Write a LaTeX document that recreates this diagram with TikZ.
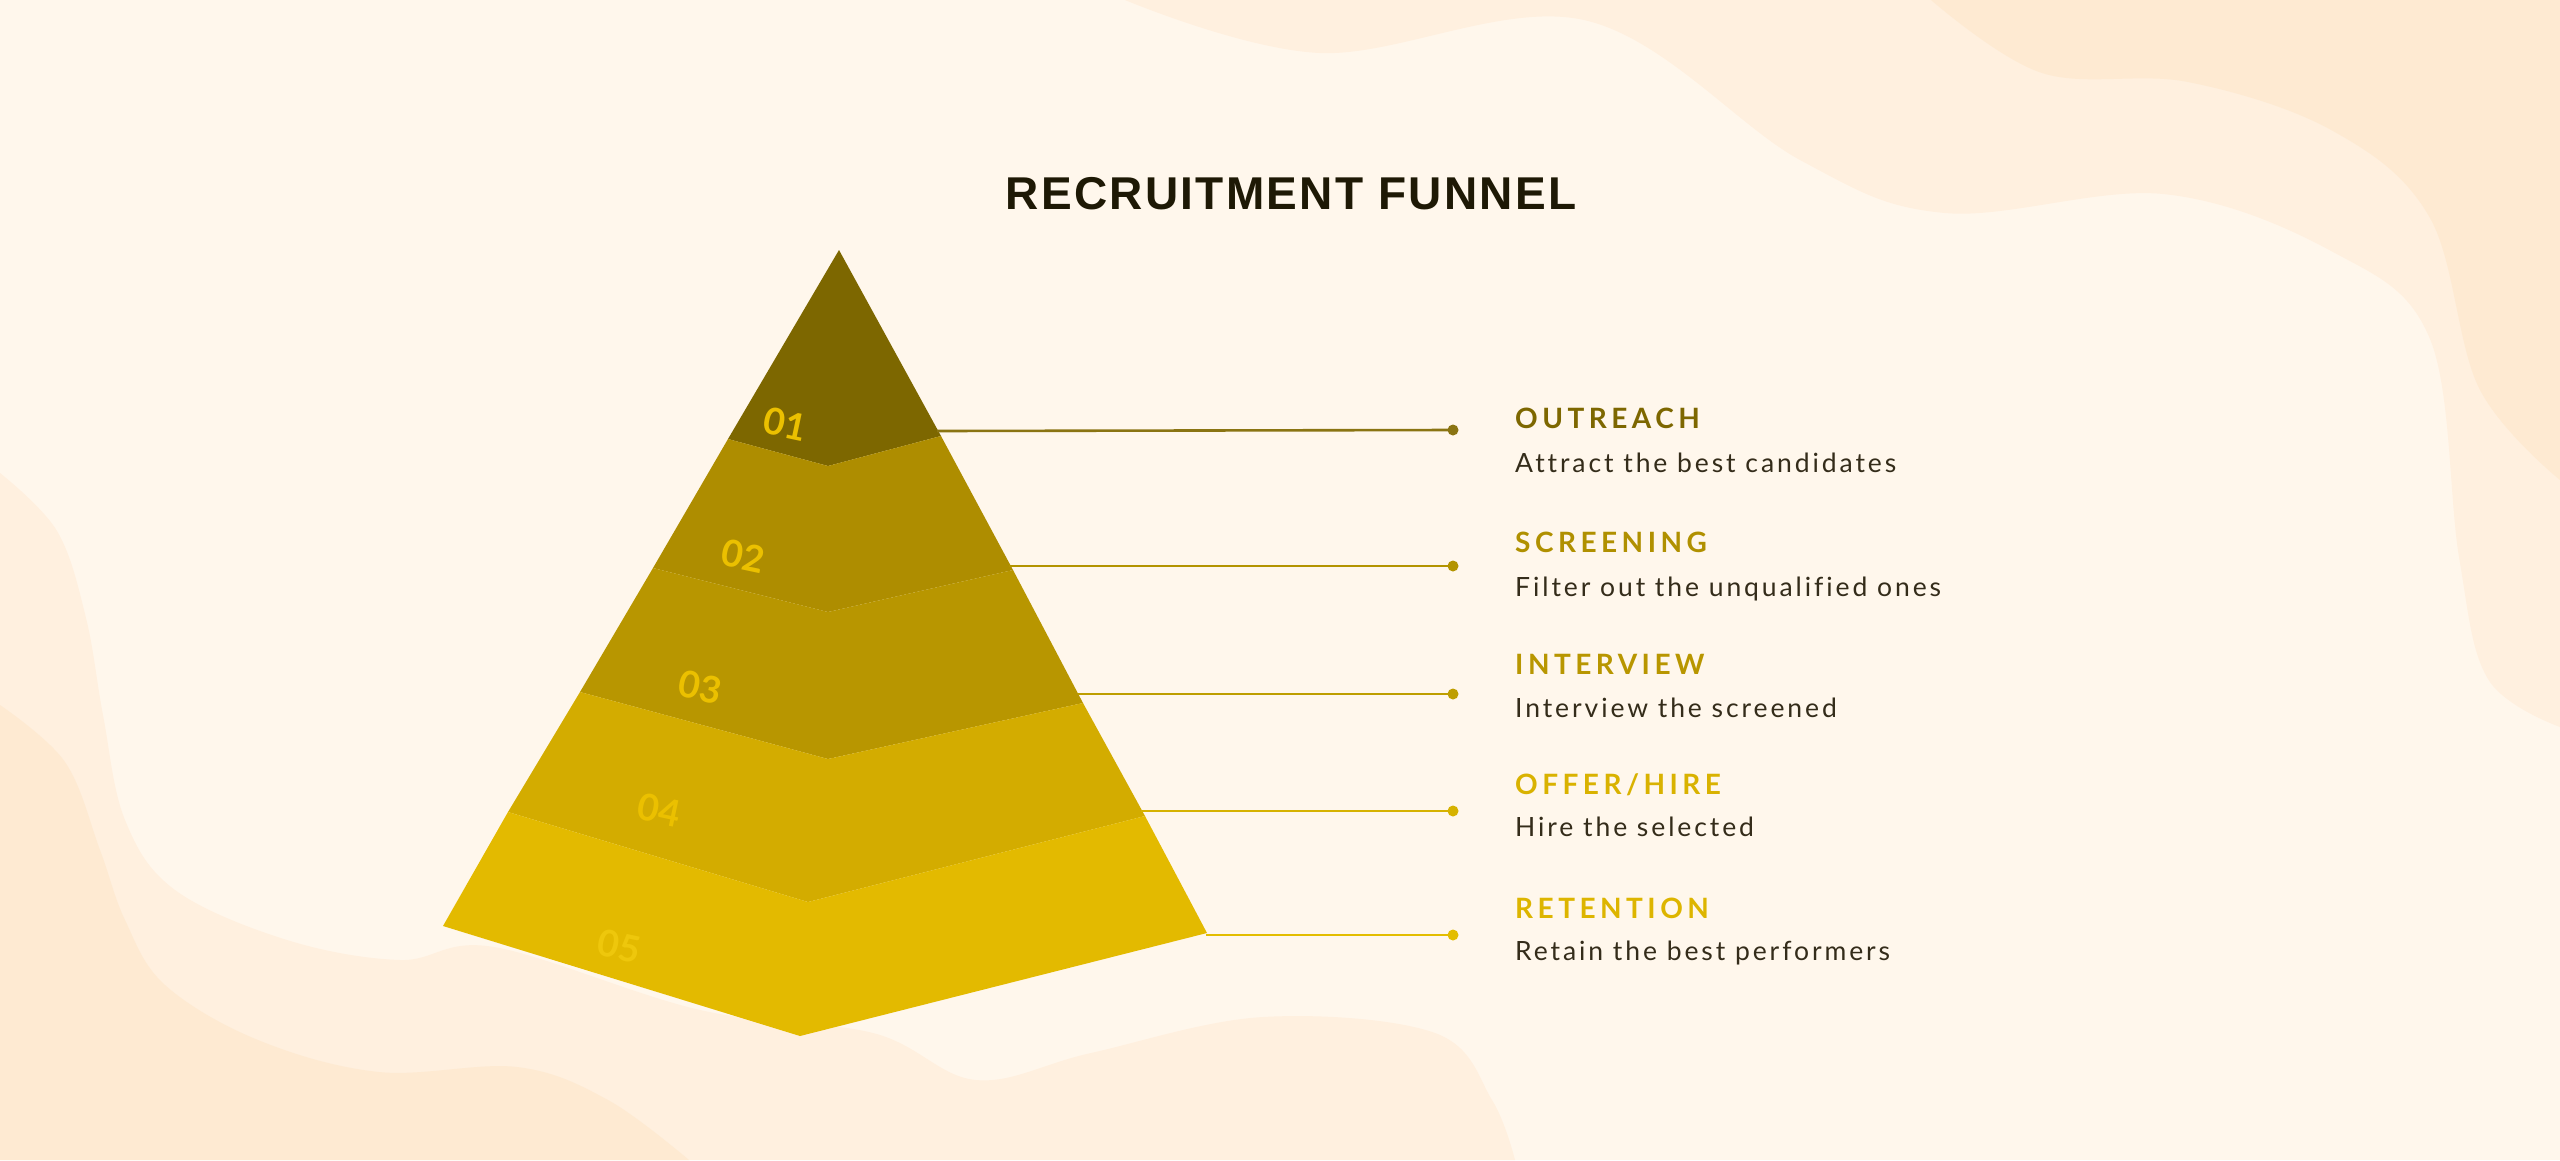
\documentclass[tikz,border=0pt]{standalone}
\usepackage{fontspec}
\setmainfont{Lato}
\newfontfamily\titlefont{Liberation Sans}[LetterSpace=5]
\newfontfamily\hdfont{Lato}[LetterSpace=16]
\newfontfamily\dsfont{Lato}[LetterSpace=11, Ligatures=NoCommon]
\newfontfamily\numfont{Lato}
\definecolor{bg}{HTML}{FFF7EC}
\definecolor{bgmid}{HTML}{FFF0DF}
\definecolor{bgout}{HTML}{FEEAD2}
\definecolor{bA}{HTML}{7D6700}
\definecolor{bB}{HTML}{AE8D00}
\definecolor{bC}{HTML}{B89600}
\definecolor{bD}{HTML}{D3AC00}
\definecolor{bE}{HTML}{E3BA00}
\definecolor{numc}{HTML}{EBC000}
\definecolor{numlast}{HTML}{EEC70C}
\definecolor{lA}{HTML}{8A7412}
\definecolor{lB}{HTML}{B39400}
\definecolor{lC}{HTML}{BE9E00}
\definecolor{lD}{HTML}{D6B200}
\definecolor{lE}{HTML}{E3BD00}
\definecolor{hA}{HTML}{7D6700}
\definecolor{hB}{HTML}{B09000}
\definecolor{hC}{HTML}{B89600}
\definecolor{hD}{HTML}{D9B200}
\definecolor{hE}{HTML}{DDB500}
\definecolor{descc}{HTML}{342C1A}
\definecolor{titlec}{HTML}{1E1905}
\tikzset{
  hdr/.style={anchor=base west, inner sep=0pt, font=\hdfont\bfseries\fontsize{28}{34}\selectfont},
  desc/.style={anchor=base west, inner sep=0pt, text=descc, font=\dsfont\fontsize{26.5}{32}\selectfont},
  num/.style={inner sep=0pt, rotate=-12, font=\numfont\bfseries\fontsize{37}{44}\selectfont},
  dot/.style={circle, inner sep=0pt, minimum size=11pt},
  conn/.style={line width=2.6pt},
}
\begin{document}
\begin{tikzpicture}[x=1pt,y=-1pt]
\useasboundingbox (0,0) rectangle (2560,1160);
% background
\fill[bg] (0,0) rectangle (2560,1160);
\fill[bgmid] (1125,0) -- plot[smooth, tension=0.6] coordinates {(1125,0) (1320,53) (1584,20) (1800,160) (1945,213) (2163,194) (2333,252) (2430,339) (2459,557) (2488,679) (2560,727)} -- (2560,0) -- cycle;
\fill[bgout] (1931,0) -- plot[smooth, tension=0.6] coordinates {(1931,0) (2042,73) (2188,82) (2333,131) (2430,218) (2479,388) (2560,480)} -- (2560,0) -- cycle;
\fill[bgmid] (0,473) -- plot[smooth, tension=0.6] coordinates {(0,473) (57,531) (86,618) (103,715) (125,820) (175,890) (287,940) (400,960) (494,947) (700,1010) (873,1033) (976,1080) (1091,1053) (1263,1017) (1435,1033) (1492,1100) (1515,1160)} -- (0,1160) -- cycle;
\fill[bgout] (0,705) -- plot[smooth, tension=0.6] coordinates {(0,705) (65,762) (100,850) (125,920) (165,985) (258,1040) (379,1072) (517,1067) (608,1100) (689,1160)} -- (0,1160) -- cycle;
% pyramid points
\coordinate (A) at (839,250);
\coordinate (L1) at (728,439); \coordinate (C1) at (828,466); \coordinate (R1) at (941,436);
\coordinate (L2) at (653,568); \coordinate (C2) at (828,612); \coordinate (R2) at (1013,570);
\coordinate (L3) at (580,692); \coordinate (C3) at (828,759); \coordinate (R3) at (1083,703);
\coordinate (L4) at (508,812); \coordinate (C4) at (808,902); \coordinate (R4) at (1145,816);
\coordinate (L5) at (443,926); \coordinate (C5) at (800,1036); \coordinate (R5) at (1207,933);
\fill[bA] (A) -- (R1) -- (C1) -- (L1) -- cycle;
\fill[bB] (L1) -- (C1) -- (R1) -- (R2) -- (C2) -- (L2) -- cycle;
\fill[bC] (L2) -- (C2) -- (R2) -- (R3) -- (C3) -- (L3) -- cycle;
\fill[bD] (L3) -- (C3) -- (R3) -- (R4) -- (C4) -- (L4) -- cycle;
\fill[bE] (L4) -- (C4) -- (R4) -- (R5) -- (C5) -- (L5) -- cycle;
% numbers
\node[num, text=numc] (n1) at (785,424) {01};
\node[num, text=numc] (n2) at (743,556) {02};
\node[num, text=numc] (n3) at (700,687) {03};
\node[num, text=numc] (n4) at (659,810) {04};
\node[num, text=numlast] (n5) at (619,946) {05};
% title
\node[anchor=base, inner sep=0pt, text=titlec, font=\titlefont\bfseries\fontsize{46}{52}\selectfont] (title) at (1291,209) {RECRUITMENT FUNNEL};
% connectors
\coordinate (e1) at (937,431);
\coordinate (e2) at (1009,566);
\coordinate (e3) at (1078,694);
\coordinate (e4) at (1141,811);
\coordinate (e5) at (1206,935);
\node[dot, fill=lA] (d1) at (1453,430) {};
\node[dot, fill=lB] (d2) at (1453,566) {};
\node[dot, fill=lC] (d3) at (1453,694) {};
\node[dot, fill=lD] (d4) at (1453,811) {};
\node[dot, fill=lE] (d5) at (1453,935) {};
\draw[conn, lA] (e1) -- (d1.center);
\draw[conn, lB] (e2) -- (d2.center);
\draw[conn, lC] (e3) -- (d3.center);
\draw[conn, lD] (e4) -- (d4.center);
\draw[conn, lE] (e5) -- (d5.center);
% labels
\node[hdr, text=hA] (h1) at (1515,428) {OUTREACH};
\node[desc] (t1) at (1515,472) {Attract the best candidates};
\node[hdr, text=hB] (h2) at (1515,552) {SCREENING};
\node[desc] (t2) at (1515,596) {Filter out the unqualified ones};
\node[hdr, text=hC] (h3) at (1515,674) {INTERVIEW};
\node[desc] (t3) at (1515,717) {Interview the screened};
\node[hdr, text=hD] (h4) at (1515,794) {OFFER/HIRE};
\node[desc] (t4) at (1515,836) {Hire the selected};
\node[hdr, text=hE] (h5) at (1515,918) {RETENTION};
\node[desc] (t5) at (1515,960) {Retain the best performers};
\end{tikzpicture}
\end{document}
